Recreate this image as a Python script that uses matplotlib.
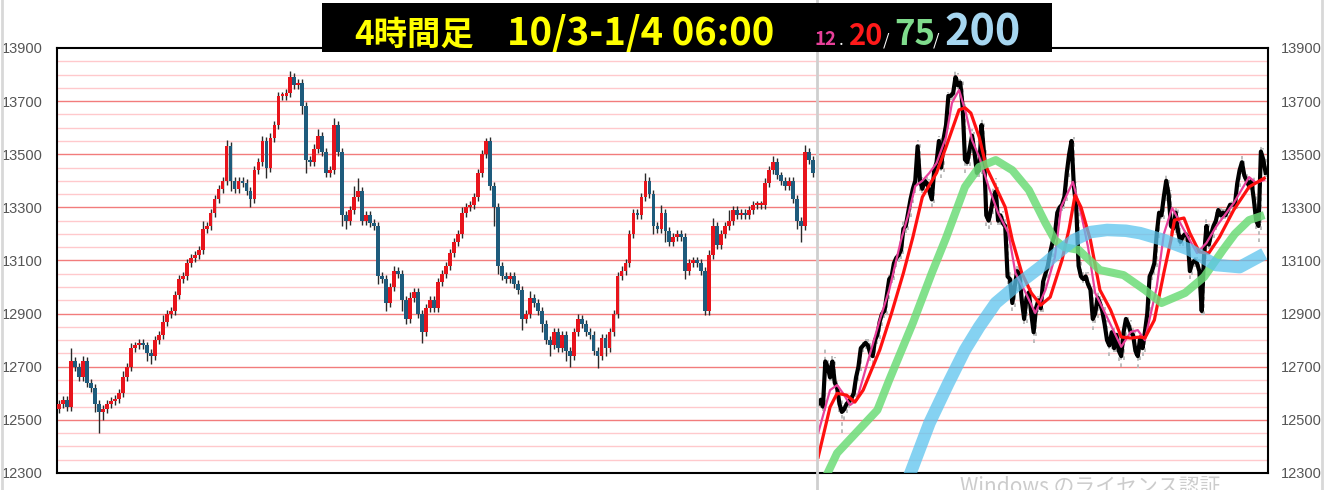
import numpy as np
import matplotlib
matplotlib.use("Agg")
import matplotlib.pyplot as plt
from matplotlib.patches import Rectangle
from matplotlib.lines import Line2D

# ---------------- data ----------------
first_open = 12540
closes = [
    12560, 12575, 12550, 12720, 12700, 12660, 12720, 12640, 12620, 12560,
    12530, 12540, 12560, 12570, 12580, 12600, 12660, 12700, 12770, 12780,
    12790, 12780, 12750, 12740, 12800, 12820, 12870, 12900, 12910, 12970,
    13030, 13040, 13090, 13110, 13120, 13140, 13220, 13230, 13280, 13330,
    13370, 13400, 13530, 13400, 13370, 13400, 13390, 13360, 13330, 13440,
    13470, 13550, 13450, 13560, 13610, 13720, 13720, 13730, 13790, 13760,
    13770, 13680, 13480, 13470, 13520, 13570, 13510, 13430, 13440, 13610,
    13510, 13270, 13250, 13290, 13340, 13360, 13250, 13270, 13240, 13230,
    13040, 13030, 12940, 13000, 13060, 13050, 12950, 12880, 12960, 12980,
    12900, 12830, 12920, 12950, 12920, 13020, 13050, 13080, 13130, 13170,
    13200, 13280, 13300, 13310, 13340, 13430, 13500, 13550, 13380, 13300,
    13080, 13040, 13030, 13040, 13010, 12990, 12880, 12900, 12960, 12940,
    12910, 12860, 12800, 12780, 12830, 12770, 12820, 12760, 12740, 12830,
    12880, 12860, 12830, 12820, 12760, 12740, 12810, 12770, 12830, 12900,
    13040, 13060, 13090, 13200, 13280, 13270, 13340, 13400, 13350, 13230,
    13220, 13280, 13210, 13170, 13190, 13200, 13190, 13060, 13090, 13100,
    13090, 13060, 12910, 13120, 13230, 13160, 13200, 13230, 13250, 13290,
    13270, 13280, 13270, 13290, 13310, 13310, 13310, 13390, 13440, 13470,
    13420, 13400, 13380, 13400, 13330, 13250, 13230, 13510, 13480, 13430,
]
upper_wick = [
    15, 15, 15, 50, 15, 15, 20, 15, 15, 15, 15, 15, 15, 15, 15, 15, 25, 15, 20, 15,
    15, 15, 15, 15, 15, 15, 25, 15, 15, 15, 15, 15, 15, 15, 15, 15, 30, 15, 15, 15,
    15, 15, 25, 15, 15, 15, 15, 15, 15, 15, 15, 20, 15, 20, 15, 15, 15, 15, 25, 15,
    15, 15, 15, 15, 20, 25, 15, 15, 15, 25, 15, 15, 15, 15, 40, 50, 15, 15, 15, 15,
    15, 15, 15, 15, 20, 15, 15, 15, 20, 15, 15, 15, 15, 15, 15, 15, 15, 15, 15, 15,
    15, 20, 15, 15, 15, 15, 15, 10, 15, 15, 15, 15, 15, 15, 15, 15, 15, 15, 25, 15,
    15, 15, 15, 15, 15, 15, 15, 15, 15, 15, 20, 15, 15, 15, 15, 15, 15, 15, 15, 15,
    15, 20, 15, 15, 15, 15, 15, 30, 15, 15, 15, 30, 15, 15, 15, 15, 15, 15, 15, 15,
    15, 15, 15, 20, 30, 15, 15, 15, 40, 15, 15, 15, 15, 15, 15, 15, 15, 20, 15, 25,
    15, 15, 15, 15, 15, 15, 15, 25, 15, 15,
]
lower_wick = [
    15, 15, 15, 15, 15, 15, 15, 15, 15, 30, 80, 30, 15, 15, 15, 15, 15, 15, 15, 15,
    15, 15, 30, 30, 15, 15, 15, 15, 15, 15, 15, 15, 15, 15, 15, 15, 15, 15, 15, 15,
    15, 15, 15, 40, 15, 15, 15, 15, 30, 15, 15, 15, 40, 15, 15, 15, 15, 15, 15, 15,
    15, 30, 50, 15, 15, 15, 15, 15, 15, 15, 15, 40, 30, 15, 15, 15, 15, 15, 15, 15,
    30, 15, 30, 15, 15, 15, 40, 20, 15, 15, 15, 40, 15, 15, 15, 15, 15, 15, 15, 15,
    15, 15, 15, 15, 15, 15, 15, 15, 15, 70, 30, 15, 15, 15, 15, 15, 40, 15, 15, 15,
    15, 30, 15, 40, 15, 15, 15, 40, 40, 15, 15, 15, 15, 15, 15, 45, 15, 30, 15, 15,
    15, 15, 15, 15, 15, 15, 15, 15, 15, 30, 15, 15, 40, 15, 15, 15, 15, 30, 15, 15,
    15, 15, 15, 15, 15, 15, 15, 15, 15, 15, 15, 15, 15, 15, 15, 15, 15, 15, 15, 15,
    15, 15, 15, 15, 15, 30, 60, 15, 15, 15,
]

ma12_idx = [0, 5, 8, 10.5, 13.5, 16.3, 22, 26, 30, 35, 38, 41, 44, 47, 50, 54, 56.5,
            59.5, 62.4, 65, 68, 72, 76, 80.4, 83.3, 87.5, 91.7, 96, 100, 102.6, 107.6,
            111, 114, 117, 122, 128, 132, 135, 138, 143, 146, 149.5, 154.5, 160, 164,
            168, 175.5, 182, 185, 188.4]
ma12_val = [12450, 12612, 12631, 12600, 12556, 12575, 12752, 12876, 12989, 13177,
            13270, 13380, 13400, 13430, 13467, 13565, 13693, 13742, 13655, 13553,
            13490, 13377, 13279, 13203, 13053, 12981, 12902, 12989, 13113, 13301,
            13396, 13279, 13150, 12978, 12887, 12775, 12831, 12838, 12800, 13000,
            13200, 13298, 13215, 13128, 13166, 13226, 13316, 13414, 13392, 13403]

ma20_idx = [0, 5, 8, 12, 15.5, 19, 26, 31, 36, 40, 44, 50, 54, 59.5, 62, 64.5, 68, 71,
            75, 79, 82, 86, 90, 94, 98, 103, 106, 108.5, 111, 115, 119, 123.5, 128,
            132, 136, 138, 142, 146, 149, 150.5, 154.5, 157, 161, 165, 169.5, 175.5,
            182, 188.4]
ma20_val = [12360, 12548, 12600, 12593, 12567, 12612, 12763, 12902, 13053, 13188,
            13339, 13430, 13527, 13667, 13675, 13655, 13565, 13452, 13377, 13301,
            13177, 13053, 12978, 12932, 12962, 13102, 13220, 13346, 13301, 13177,
            12989, 12914, 12812, 12808, 12812, 12808, 12876, 13053, 13177, 13252,
            13260, 13203, 13132, 13128, 13188, 13290, 13377, 13410]

ma75_idx = [0, 4, 8, 25, 30, 40, 48, 54, 62, 68, 75, 82, 89, 96, 100, 104, 110, 119,
            129, 138, 145, 155, 163, 171, 176, 182, 188.4]
ma75_val = [12230, 12300, 12375, 12537, 12650, 12865, 13053, 13185, 13377, 13452,
            13478, 13440, 13365, 13241, 13177, 13150, 13140, 13064, 13045, 12989,
            12940, 12978, 13038, 13140, 13200, 13252, 13271]

ma200_idx = [36, 39, 47, 55, 62, 68, 75, 85, 96, 101, 108, 115, 122, 130, 136, 146,
             157, 168, 178, 188.4]
ma200_val = [12240, 12300, 12488, 12638, 12763, 12850, 12940, 13015, 13090, 13128,
             13177, 13207, 13215, 13212, 13203, 13177, 13140, 13083, 13075, 13125]

yticks = [12300, 12500, 12700, 12900, 13100, 13300, 13500, 13700, 13900]
ytick_labels = [str(v) for v in yticks]
grid_levels = list(range(12350, 13900, 50))

title_main = "4時間足"
title_dates = "10/3-1/4 06:00"
ma_labels = ["12", "20", "75", "200"]
watermark = "Windows のライセンス認証"

# ---------------- figure ----------------
W, H = 1325, 490
fig = plt.figure(figsize=(W / 100, H / 100), dpi=100)
fig.patch.set_facecolor("white")


def fx(px):
    return px / W


def fy(py):
    return 1 - py / H


axL = fig.add_axes([fx(57), fy(473), fx(817) - fx(57), fy(48) - fy(473)])
axR = fig.add_axes([fx(817), fy(473), fx(1268) - fx(817), fy(48) - fy(473)])

c = np.array(closes, dtype=float)
o = np.r_[first_open, c[:-1]]
hi = np.maximum(o, c) + np.array(upper_wick)
lo = np.minimum(o, c) - np.array(lower_wick)
x = np.arange(len(c))

for ax in (axL, axR):
    ax.set_ylim(12300, 13900)
    ax.set_xlim(-0.5, len(c))
    for lv in grid_levels:
        col = "#f27c7c" if lv % 200 == 100 else "#ffc9cc"
        ax.axhline(lv, color=col, lw=1.0, zorder=0)
    ax.set_xticks([])
    ax.set_yticks(yticks)
    ax.set_yticklabels(ytick_labels, family="Liberation Sans", fontsize=10.5, color="#555555")
    ax.tick_params(axis="y", length=0)
    for s in ax.spines.values():
        s.set_color("black")
        s.set_linewidth(1.5)

axL.spines["right"].set_visible(False)
axL.tick_params(axis="y", pad=10)
axR.spines["left"].set_visible(False)
axR.yaxis.tick_right()
axR.tick_params(axis="y", pad=9)

# candles
upc = c >= o
colors = np.where(upc, "#e8141c", "#1e5b7c")
axL.vlines(x, lo, hi, color="#2a2a2a", lw=1.0, zorder=2)
body = np.maximum(np.abs(c - o), 8)
axL.bar(x, body, bottom=np.minimum(o, c), width=0.95, color=colors, linewidth=0, zorder=3)

# right panel: price line with moving averages
axR.vlines(x, lo, hi, color="#b8b8b8", lw=1.3, linestyles=(0, (2, 2)), zorder=1)
axR.plot(x, c, color="black", lw=3.0, zorder=2, solid_joinstyle="round")
axR.plot(ma12_idx, ma12_val, color="#e8409a", lw=1.6, zorder=3)
axR.plot(ma20_idx, ma20_val, color="#ff1010", lw=2.3, zorder=4)
axR.plot(ma75_idx, ma75_val, color="#6cdc78", lw=5.8, alpha=0.85, zorder=5,
         solid_capstyle="butt")
axR.plot(ma200_idx, ma200_val, color="#5cc4ee", lw=9.0, alpha=0.75, zorder=6,
         solid_capstyle="butt")

# separators / frame lines
fig.add_artist(Line2D([fx(817), fx(817)], [0, 1], color="#cfcfcf", lw=2, zorder=1))
fig.add_artist(Line2D([fx(2), fx(2)], [0, 1], color="#d8d8d8", lw=2))
fig.add_artist(Line2D([fx(1322), fx(1322)], [0, 1], color="#d8d8d8", lw=2))

# title box
fig.add_artist(Rectangle((fx(322), fy(52)), fx(1052) - fx(322), fy(3) - fy(52),
                         transform=fig.transFigure, facecolor="black", edgecolor="none",
                         zorder=10))
jp = "Noto Sans CJK JP"
base = fy(45)
fig.text(fx(354), base, title_main, color="#ffff00", fontsize=24, family=jp,
         weight="bold", va="baseline", ha="left", zorder=11)
fig.text(fx(507), base, title_dates, color="#ffff00", fontsize=27.5, family=jp,
         weight="bold", va="baseline", ha="left", zorder=11)
fig.text(fx(815), base, ma_labels[0], color="#e8409a", fontsize=13.5, family=jp,
         weight="bold", va="baseline", ha="left", zorder=11)
fig.text(fx(839), base, ".", color="white", fontsize=12, family=jp,
         va="baseline", ha="left", zorder=11)
fig.text(fx(849), base, ma_labels[1], color="#ff1a1a", fontsize=21, family=jp,
         weight="bold", va="baseline", ha="left", zorder=11)
fig.text(fx(883), base, "/", color="white", fontsize=12, family=jp,
         va="baseline", ha="left", zorder=11)
fig.text(fx(894), base, ma_labels[2], color="#7fdc8c", fontsize=25, family=jp,
         weight="bold", va="baseline", ha="left", zorder=11)
fig.text(fx(933), base, "/", color="white", fontsize=12, family=jp,
         va="baseline", ha="left", zorder=11)
fig.text(fx(944), base, ma_labels[3], color="#a6d6f0", fontsize=31, family=jp,
         weight="bold", va="baseline", ha="left", zorder=11)

# watermark (cut off at the bottom edge, as in the reference)
fig.text(fx(960), fy(476), watermark, color="#cccccc", fontsize=15, family=jp,
         va="top", ha="left")

fig.savefig("out.png", dpi=100, facecolor="white")
